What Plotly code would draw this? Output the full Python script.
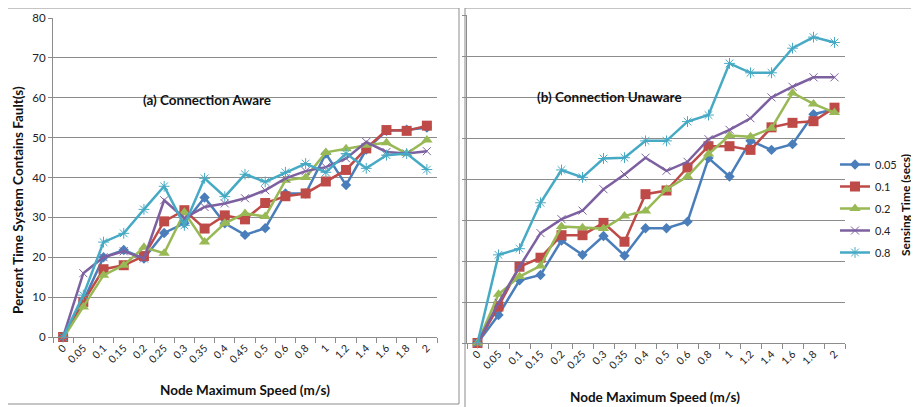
import plotly.graph_objects as go

cats_a = ["0","0.05","0.1","0.15","0.2","0.25","0.3","0.35","0.4","0.45","0.5","0.6","0.8","1","1.2","1.4","1.6","1.8","2"]
cats_b = ["0","0.05","0.1","0.15","0.2","0.25","0.3","0.35","0.4","0.5","0.6","0.8","1","1.2","1.4","1.6","1.8","2"]

series_names = ["0.05", "0.1", "0.2", "0.4", "0.8"]

a_005 = [0, 9, 20, 21.8, 19.7, 26.1, 28.5, 35, 28.5, 25.6, 27.3, 36, 36, 46, 38.1, 47, 51.7, 52, 52.5]
a_01 = [0, 8.8, 17, 18, 20.3, 29, 31.8, 27.2, 30.5, 29.5, 33.6, 35.3, 36, 39, 41.9, 47.3, 51.9, 51.7, 53]
a_02 = [-0.3, 7.5, 15.5, 18, 22.5, 21, 31.3, 23.8, 28.5, 31, 30.2, 39.3, 40, 46.3, 47.2, 48.1, 48.7, 46, 49.4]
a_04 = [0, 16, 20, 21.5, 19.7, 34.3, 29.8, 32.6, 33.5, 34.8, 36.8, 39.8, 41.6, 42.6, 44.8, 48.9, 46.4, 46, 46.6]
a_08 = [0, 10.5, 23.8, 26, 32, 37.8, 28, 39.8, 35.2, 40.8, 38.9, 41.3, 43.5, 41.3, 46, 42.3, 45.6, 46, 42]

b_005 = [0, 6.8, 15.3, 16.6, 25, 21.5, 26.1, 21.3, 28, 28, 29.6, 45.1, 40.6, 49.3, 47.1, 48.5, 55.8, 57]
b_01 = [0, 8.9, 18.6, 20.8, 26.3, 26.3, 29.3, 24.7, 36.3, 37.2, 42.8, 48, 48, 47.1, 52.6, 53.7, 54.1, 57.4]
b_02 = [0, 11.9, 16.2, 18.8, 28.4, 28.1, 27.9, 31, 32.2, 37.5, 40.6, 46.1, 50.6, 50.3, 52.4, 61, 58.3, 56.2]
b_04 = [0, 9.8, 18.6, 26.8, 30.2, 32.3, 37.5, 41.1, 45.2, 42, 44.2, 49.7, 52, 54.8, 59.9, 62.5, 64.8, 64.8]
b_08 = [0, 21.5, 23, 34.2, 42.2, 40.4, 45, 45.2, 49.3, 49.3, 54, 55.6, 68.2, 65.9, 65.9, 71.9, 74.6, 73.3]

y_ticks = [0, 10, 20, 30, 40, 50, 60, 70, 80]

styles = [
    dict(color="#4A7EBB", symbol="diamond", size=8, mline="#4A7EBB", mlw=0),
    dict(color="#BE4B48", symbol="square", size=10, mline="#BE4B48", mlw=0),
    dict(color="#98B954", symbol="triangle-up", size=10, mline="#98B954", mlw=0),
    dict(color="#7D60A0", symbol="x-thin-open", size=8, mline="#B3A2C7", mlw=1),
    dict(color="#46AAC5", symbol="asterisk-open", size=9, mline="#93CDDD", mlw=1),
]

# the page body has an 8px margin, so the figure is drawn 8px in from the top-left
OFF = 8
W, H = 919 - OFF, 407 - OFF
def px(x): return (x - OFF) / W
def py(y): return (H - (y - OFF)) / H

fig = go.Figure()
data_a = [a_005, a_01, a_02, a_04, a_08]
data_b = [b_005, b_01, b_02, b_04, b_08]
for i, (name, st) in enumerate(zip(series_names, styles)):
    mk = dict(symbol=st["symbol"], size=st["size"], color=st["color"],
              line=dict(color=st["mline"], width=st["mlw"]))
    fig.add_trace(go.Scatter(x=cats_a, y=data_a[i], name=name, mode="lines+markers",
                             line=dict(color=st["color"], width=2.5), marker=mk,
                             legendgroup="g" + name, showlegend=True, cliponaxis=False,
                             xaxis="x", yaxis="y"))
    fig.add_trace(go.Scatter(x=cats_b, y=data_b[i], name=name, mode="lines+markers",
                             line=dict(color=st["color"], width=2.5), marker=mk,
                             legendgroup="g" + name, showlegend=False, cliponaxis=False,
                             xaxis="x2", yaxis="y2"))

FONT = "Lato, Calibri, Arial, sans-serif"
grid = "#8C8C8C"
common_x = dict(type="category", showgrid=False, showline=True, linecolor=grid, linewidth=1,
                ticks="outside", ticklen=5, tickcolor=grid, tickson="boundaries",
                tickangle=-45, tickfont=dict(size=10.5, color="#222", family=FONT),
                zeroline=False, automargin=False)
common_y = dict(range=[0, 80], tickvals=y_ticks, showgrid=True, gridcolor=grid, gridwidth=1,
                showline=True, linecolor=grid, linewidth=1, ticks="outside", ticklen=4,
                tickcolor=grid, zeroline=False, automargin=False)

def ann(text, x, y, size=13.5, angle=0):
    return dict(text="<b>%s</b>" % text, xref="paper", yref="paper", x=px(x), y=py(y),
                xanchor="center", yanchor="middle", textangle=angle, showarrow=False,
                font=dict(size=size, family=FONT, color="#111"))

fig.update_layout(
    width=W, height=H,
    margin=dict(l=0, r=0, t=0, b=0, autoexpand=False),
    paper_bgcolor="white", plot_bgcolor="white",
    font=dict(family=FONT, color="#222"),
    xaxis=dict(domain=[px(53), px(437)], anchor="y", categoryorder="array", categoryarray=cats_a,
               range=[-0.5, len(cats_a) - 0.5], **common_x),
    yaxis=dict(domain=[py(337), py(18)], anchor="x", showticklabels=True,
               tickfont=dict(size=11.5, color="#222", family=FONT), **common_y),
    xaxis2=dict(domain=[px(467), px(845)], anchor="y2", categoryorder="array", categoryarray=cats_b,
                range=[-0.5, len(cats_b) - 0.5], **common_x),
    yaxis2=dict(domain=[py(343), py(15)], anchor="x2", showticklabels=False, **common_y),
    legend=dict(x=px(835), y=py(150), xanchor="left", yanchor="top",
                font=dict(size=11, family=FONT, color="#222"),
                itemwidth=30, tracegroupgap=3, bgcolor="rgba(0,0,0,0)"),
    shapes=[
        dict(type="rect", xref="paper", yref="paper", x0=px(7), x1=px(459), y0=py(404), y1=py(8),
             line=dict(color="#8C8C8C", width=1), layer="below"),
        dict(type="rect", xref="paper", yref="paper", x0=px(465), x1=px(930), y0=py(420), y1=py(8),
             line=dict(color="#8C8C8C", width=1), layer="below"),
    ],
    annotations=[
        ann("Percent Time System Contains Fault(s)", 18, 200, angle=-90),
        ann("Node Maximum Speed (m/s)", 245, 390),
        ann("Node Maximum Speed (m/s)", 655, 397),
        ann("(a) Connection Aware", 207, 100),
        ann("(b) Connection Unaware", 609, 97),
        ann("Sensing Time (secs)", 905, 205, size=12, angle=-90),
    ],
)

fig.write_html("out.html")
